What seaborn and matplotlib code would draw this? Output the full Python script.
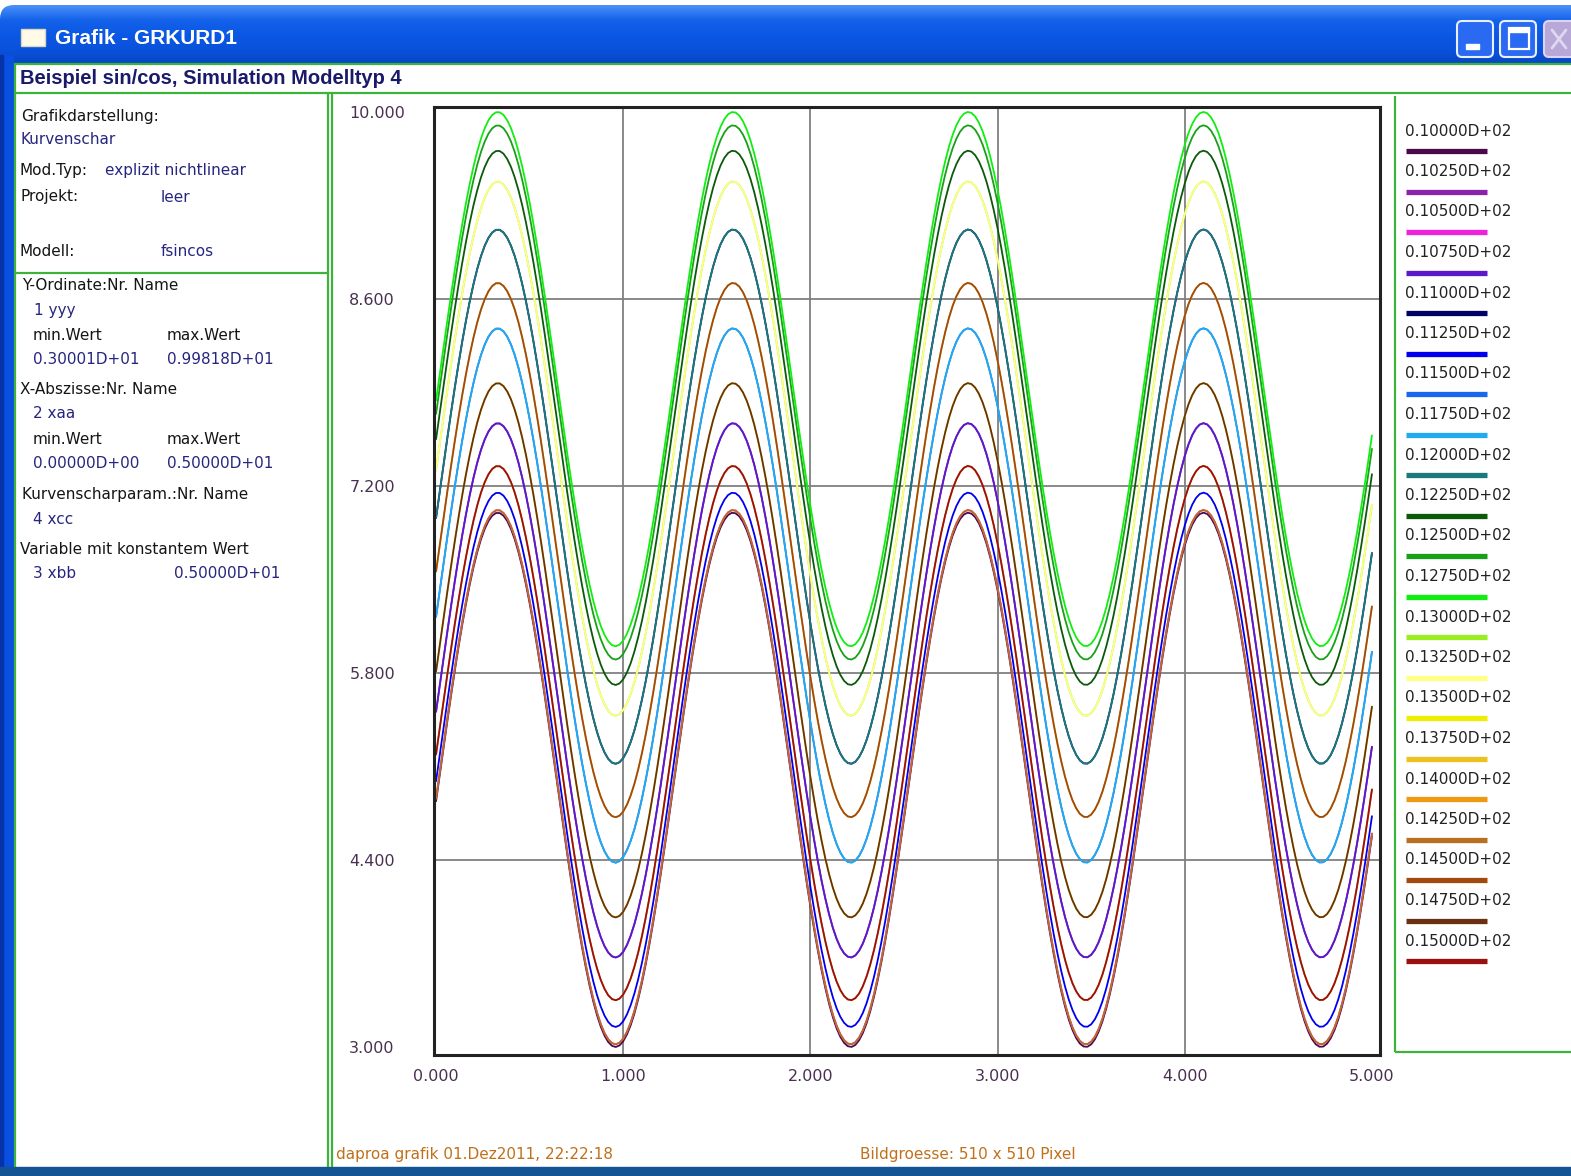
import numpy as np
import pandas as pd
import matplotlib
matplotlib.use('Agg')
import matplotlib.pyplot as plt
import seaborn as sns
from matplotlib.patches import Rectangle, FancyBboxPatch
from matplotlib.colors import LinearSegmentedColormap

# --- Kurvenschar: parameter xcc, colours, level and amplitude ---
xcc_labels = ['0.10000D+02', '0.10250D+02', '0.10500D+02', '0.10750D+02',
              '0.11000D+02', '0.11250D+02', '0.11500D+02', '0.11750D+02',
              '0.12000D+02', '0.12250D+02', '0.12500D+02', '0.12750D+02',
              '0.13000D+02', '0.13250D+02', '0.13500D+02', '0.13750D+02',
              '0.14000D+02', '0.14250D+02', '0.14500D+02', '0.14750D+02',
              '0.15000D+02']
xcc_colors = ['#4a0a4a', '#8a22aa', '#ee22dd', '#5a1acc',
              '#000066', '#0000ee', '#1a66ee', '#22aaee',
              '#1a7a7a', '#0a5a0a', '#18a018', '#10ee10',
              '#99ee22', '#ffff88', '#eeee00', '#eec020',
              '#ee9a10', '#b87020', '#a04a10', '#6a3010',
              '#9a1010']
mid_level = [5.00, 5.67, 5.02, 5.67, 7.12, 5.15, 6.38, 6.38, 7.12, 7.71, 7.90,
             8.00, 7.48, 7.48, 5.97, 6.72, 5.35, 5.02, 6.72, 5.97, 5.35]
amplitude = [2.00, 2.00, 2.00, 2.00, 2.00, 2.00, 2.00, 2.00, 2.00, 2.00, 2.00,
             2.00, 2.00, 2.00, 2.00, 2.00, 2.00, 2.00, 2.00, 2.00, 2.00]

# model fsincos: yyy = level + amp * sin(xbb * xaa - phase), xbb = 5
xbb = 5.0
phase = 0.08
xaa = np.linspace(0.0, 5.0, 251)

y_ticks = [3.0, 4.4, 5.8, 7.2, 8.6, 10.0]
y_ticklabels = ['3.000', '4.400', '5.800', '7.200', '8.600', '10.000']
x_ticks = [0, 1, 2, 3, 4, 5]
x_ticklabels = ['0.000', '1.000', '2.000', '3.000', '4.000', '5.000']

rows = []
for lab, lev, amp in zip(xcc_labels, mid_level, amplitude):
    for xv in xaa:
        rows.append({'xaa': xv, 'yyy': lev + amp * np.sin(xbb * xv - phase), 'xcc': lab})
df = pd.DataFrame(rows)

sns.set_style('white')
plt.rcParams['font.family'] = ['DejaVu Sans']

W, H = 1571, 1176
fig = plt.figure(figsize=(W / 100, H / 100), dpi=100)
fig.patch.set_facecolor('white')

# --- window chrome, drawn in pixel coordinates ---
bg = fig.add_axes([0, 0, 1, 1], zorder=0)
bg.set_axis_off()

GREEN = '#3cb43c'
NAVY = '#262680'
TXT = '#151515'

grad = np.linspace(0, 1, 60).reshape(-1, 1)
cmap_bar = LinearSegmentedColormap.from_list('xp', ['#4a90f8', '#1462ea', '#0a58e4', '#0a52dc', '#0846c4'])
im = bg.imshow(grad, extent=(0, W, 64, 5), origin='upper', cmap=cmap_bar, aspect='auto', zorder=1)
clip = FancyBboxPatch((0, 5), W + 30, 120, boxstyle='round,pad=0,rounding_size=14',
                      transform=bg.transData, facecolor='none', edgecolor='none')
bg.add_patch(clip)
im.set_clip_path(clip)

# left and bottom window border
bg.add_patch(Rectangle((0, 55), 13, H - 55, color='#0a50e0', zorder=2))
bg.add_patch(Rectangle((0, 55), 3, H - 55, color='#0634a8', zorder=2))
bg.add_patch(Rectangle((0, 1167), W, 9, color='#145494', zorder=2))

# title bar icon, text and buttons
bg.add_patch(Rectangle((21, 29), 24, 17, facecolor='#fffbe8', edgecolor='#dcd8c0', lw=1, zorder=3))
bg.text(55, 38, 'Grafik - GRKURD1', color='white', fontsize=15, fontweight='bold',
        family='Liberation Sans', va='center', ha='left', zorder=3)
for bx, fc in [(1457, '#2a6af2'), (1500, '#2a6af2')]:
    bg.add_patch(FancyBboxPatch((bx, 21), 36, 36, boxstyle='round,pad=0,rounding_size=5',
                                facecolor=fc, edgecolor='#e8f0ff', lw=1.5, zorder=3))
bg.add_patch(Rectangle((1466, 44), 13, 5, color='white', zorder=4))
bg.add_patch(Rectangle((1509, 28), 20, 21, facecolor='none', edgecolor='white', lw=1.6, zorder=4))
bg.add_patch(Rectangle((1509, 28), 20, 4, color='white', zorder=4))
bg.add_patch(FancyBboxPatch((1544, 21), 36, 36, boxstyle='round,pad=0,rounding_size=5',
                            facecolor='#b8a8d8', edgecolor='#dcd4f0', lw=1.5, zorder=3))
bg.plot([1552, 1566], [30, 48], color='#e0d8f0', lw=2, zorder=4)
bg.plot([1552, 1566], [48, 30], color='#e0d8f0', lw=2, zorder=4)

# green frame lines of the dialog
for x0, y0, x1, y1 in [(14, 64, W, 64), (14, 93, W, 93), (15, 64, 15, 1167),
                       (328, 93, 328, 1167), (332, 93, 332, 1167), (14, 273, 328, 273),
                       (1395, 96, 1395, 1052), (1395, 1052, W, 1052)]:
    bg.plot([x0, x1], [y0, y1], color=GREEN, lw=1.6, zorder=2, solid_capstyle='butt')

bg.text(20, 78, 'Beispiel sin/cos, Simulation Modelltyp 4', color='#1a1a6a', fontsize=14.5,
        fontweight='bold', family='Liberation Sans', va='center', ha='left')

# left info panel
info = [
    (21, 116, 'Grafikdarstellung:', TXT), (21, 140, 'Kurvenschar', NAVY),
    (20, 171, 'Mod.Typ:', TXT), (105, 171, 'explizit nichtlinear', NAVY),
    (21, 197, 'Projekt:', TXT), (161, 197, 'leer', NAVY),
    (20, 251, 'Modell:', TXT), (161, 251, 'fsincos', NAVY),
    (22, 286, 'Y-Ordinate:Nr. Name', TXT), (34, 310, '1 yyy', NAVY),
    (33, 336, 'min.Wert', TXT), (167, 336, 'max.Wert', TXT),
    (33, 359, '0.30001D+01', NAVY), (167, 359, '0.99818D+01', NAVY),
    (20, 389, 'X-Abszisse:Nr. Name', TXT), (33, 413, '2 xaa', NAVY),
    (33, 439, 'min.Wert', TXT), (167, 439, 'max.Wert', TXT),
    (33, 463, '0.00000D+00', NAVY), (167, 463, '0.50000D+01', NAVY),
    (22, 495, 'Kurvenscharparam.:Nr. Name', TXT), (33, 519, '4 xcc', NAVY),
    (20, 550, 'Variable mit konstantem Wert', TXT), (33, 574, '3 xbb', NAVY),
    (174, 574, '0.50000D+01', NAVY),
]
for x, y, s, c in info:
    bg.text(x, y, s, color=c, fontsize=11, va='center', ha='left')

# legend panel
for i, (lab, col) in enumerate(zip(xcc_labels, xcc_colors)):
    yy = 131 + 40.5 * i
    bg.text(1405, yy, lab, color='#222222', fontsize=11, va='center', ha='left')
    bg.plot([1406, 1487], [yy + 20, yy + 20], color=col, lw=3.8, solid_capstyle='butt')

# footer
bg.text(336, 1155, 'daproa grafik 01.Dez2011, 22:22:18', color='#c0701a', fontsize=11, va='center')
bg.text(860, 1155, 'Bildgroesse: 510 x 510 Pixel', color='#c0701a', fontsize=11, va='center')

bg.set_xlim(0, W)
bg.set_ylim(H, 0)

# --- the chart ---
ax = fig.add_axes([434 / W, 1 - 1055 / H, (1380 - 434) / W, (1055 - 107) / H], zorder=1)
ax.set_facecolor('white')

# grid only at the inner tick positions
for xv in x_ticks[1:-1]:
    ax.axvline(xv, color='#808080', lw=1.3, zorder=0)
for yv in y_ticks[1:-1]:
    ax.axhline(yv, color='#808080', lw=1.3, zorder=0)

sns.lineplot(data=df, x='xaa', y='yyy', hue='xcc', hue_order=xcc_labels,
             palette=dict(zip(xcc_labels, xcc_colors)), estimator=None, sort=False,
             legend=False, linewidth=1.3, ax=ax)

ax.set_xlim(-0.011, 5.043)
ax.set_ylim(2.94, 10.037)
ax.set_xticks(x_ticks)
ax.set_xticklabels(x_ticklabels)
ax.set_yticks(y_ticks)
ax.set_yticklabels(y_ticklabels)
ax.set_xlabel('')
ax.set_ylabel('')
ax.grid(False)
for sp in ax.spines.values():
    sp.set_color('#222222')
    sp.set_linewidth(2.2)
ax.tick_params(axis='both', length=0, labelsize=11.5, labelcolor='#4a3050')
ax.tick_params(axis='x', pad=10)
ax.tick_params(axis='y', pad=61)
for t in ax.get_yticklabels():
    t.set_horizontalalignment('left')

fig.savefig('out.png', dpi=100)
